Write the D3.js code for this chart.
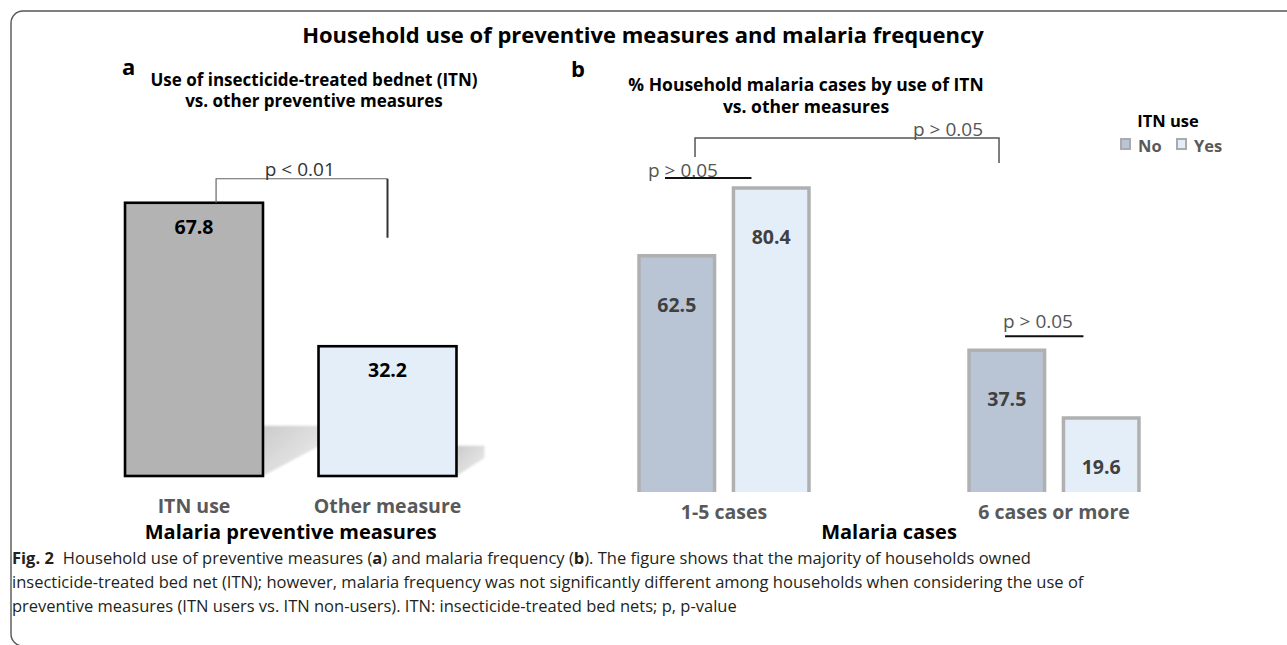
<!DOCTYPE html>
<html>
<head>
<meta charset="utf-8">
<script src="https://cdn.jsdelivr.net/npm/d3@7"></script>
<style>
  html, body { margin: 0; padding: 0; background: #fff; }
  svg { display: block; }
  text { font-family: "Open Sans", "Noto Sans", sans-serif; }
</style>
</head>
<body>
<div id="chart"></div>
<script>
// Panel a: preventive measure used by households (%)
const measureCats = ["ITN use", "Other measure"];
const measureValues = [67.8, 32.2];

// Panel b: household malaria cases by ITN use (%)
const caseCats = ["1-5 cases", "6 cases or more"];
const itnGroups = ["No", "Yes"];
const caseNo = [62.5, 37.5];
const caseYes = [80.4, 19.6];

// Significance annotations
const pLabelA = "p < 0.01";
const pLabelOverall = "p > 0.05";
const pLabelGroups = ["p > 0.05", "p > 0.05"];

const W = 1287, H = 645;
const svg = d3.select("#chart").append("svg")
  .attr("width", W).attr("height", H);

const defs = svg.append("defs");
const grad = defs.append("linearGradient").attr("id", "floorShade")
  .attr("x1", 0).attr("y1", 0).attr("x2", 1).attr("y2", 1);
grad.append("stop").attr("offset", 0).attr("stop-color", "#cbcbcb");
grad.append("stop").attr("offset", 1).attr("stop-color", "#efefef");
defs.append("filter").attr("id", "soft")
  .append("feGaussianBlur").attr("stdDeviation", 1.2);

// Figure frame (rounded corner at the left, runs off the right edge)
svg.append("path")
  .attr("d", "M1300,11 H23 A12,12 0 0 0 11,23 V634 A12,12 0 0 0 23,646")
  .attr("fill", "none").attr("stroke", "#555").attr("stroke-width", 1.4);

// Main title
svg.append("text")
  .attr("x", 643).attr("y", 43).attr("text-anchor", "middle")
  .attr("font-size", 22).attr("font-weight", 700).attr("fill", "#000")
  .text("Household use of preventive measures and malaria frequency");

// ---------------- Panel a ----------------
const xa = d3.scaleBand().domain(measureCats)
  .range([97.25, 484.25]).paddingInner(0.287).paddingOuter(0.1435);
const ya = d3.scaleLinear().domain([0, 100]).range([476, 73]);
const floorA = ya(0);
const gA = svg.append("g");

gA.append("text").attr("x", 122).attr("y", 75)
  .attr("font-family", "Liberation Sans, Arial, sans-serif")
  .attr("font-size", 22).attr("font-weight", 700).text("a");
const subA = gA.append("text").attr("text-anchor", "middle")
  .attr("font-size", 17).attr("font-weight", 700).attr("fill", "#000");
subA.append("tspan").attr("x", 314).attr("y", 86).text("Use of insecticide-treated bednet (ITN)");
subA.append("tspan").attr("x", 314).attr("y", 107).text("vs. other preventive measures");

// floor shadows behind the bars
const bwA = xa.bandwidth();
gA.selectAll("path.shade").data(measureValues).join("path")
  .attr("class", "shade")
  .attr("d", (v, i) => {
    const xr = xa(measureCats[i]) + bwA;
    const h = floorA - ya(v);
    const sh = 12 + 0.14 * h, sw = 0.2 * h + 2;
    return `M${xr},${floorA} V${floorA - sh} H${xr + sw} V${floorA - sh + 0.4 * sh} Z`;
  })
  .attr("fill", "url(#floorShade)").attr("filter", "url(#soft)");

const fillA = ["#b3b3b3", "#e4eef9"];
gA.selectAll("rect.bar").data(measureValues).join("rect")
  .attr("class", "bar")
  .attr("x", (v, i) => xa(measureCats[i]))
  .attr("y", v => ya(v))
  .attr("width", bwA)
  .attr("height", v => floorA - ya(v))
  .attr("fill", (v, i) => fillA[i])
  .attr("stroke", "#000").attr("stroke-width", 2.6);

gA.selectAll("text.val").data(measureValues).join("text")
  .attr("class", "val").attr("text-anchor", "middle")
  .attr("x", (v, i) => xa(measureCats[i]) + bwA / 2)
  .attr("y", v => ya(v) + 31)
  .attr("font-size", 19.5).attr("font-weight", 700).attr("fill", "#000")
  .text(v => v.toFixed(1));

// significance bracket
{
  const xl = xa(measureCats[0]) + bwA * 0.66;
  const xr = xa(measureCats[1]) + bwA / 2;
  const yt = ya(measureValues[0]) - 24;
  gA.append("path")
    .attr("d", `M${xl},${ya(measureValues[0])} V${yt} H${xr}`)
    .attr("fill", "none").attr("stroke", "#666").attr("stroke-width", 1.2);
  gA.append("path")
    .attr("d", `M${xr},${yt} V${ya(measureValues[0]) + 35}`)
    .attr("fill", "none").attr("stroke", "#333").attr("stroke-width", 2);
  gA.append("text").attr("x", (xl + xr) / 2 - 2).attr("y", yt - 3)
    .attr("text-anchor", "middle").attr("font-size", 19).attr("fill", "#333")
    .text(pLabelA);
}

const axA = gA.append("g").attr("transform", `translate(0,${floorA})`)
  .call(d3.axisBottom(xa).tickSize(0).tickPadding(0));
axA.select(".domain").remove();
axA.selectAll("text")
  .attr("dy", 0).attr("y", 37)
  .attr("font-family", "Open Sans, sans-serif")
  .attr("font-size", 19.5).attr("font-weight", 700).attr("fill", "#595959");

gA.append("text").attr("x", (xa.range()[0] + xa.range()[1]) / 2).attr("y", 539)
  .attr("text-anchor", "middle").attr("font-size", 20).attr("font-weight", 700)
  .text("Malaria preventive measures");

// ---------------- Panel b ----------------
const xb0 = d3.scaleBand().domain(caseCats)
  .range([559, 1219]).paddingInner(0.485).paddingOuter(0.2425);
const xb1 = d3.scaleBand().domain(itnGroups)
  .range([0, xb0.bandwidth()]).paddingInner(0.2).paddingOuter(0);
const yb = d3.scaleLinear().domain([0, 100]).range([492, 114]);
const floorB = yb(0);
const colorB = d3.scaleOrdinal().domain(itnGroups).range(["#b9c5d5", "#e4eef9"]);
const gB = svg.append("g");

gB.append("text").attr("x", 571).attr("y", 77)
  .attr("font-family", "Liberation Sans, Arial, sans-serif")
  .attr("font-size", 22).attr("font-weight", 700).text("b");
const subB = gB.append("text").attr("text-anchor", "middle")
  .attr("font-size", 17.5).attr("font-weight", 700).attr("fill", "#000");
subB.append("tspan").attr("x", 806).attr("y", 91).text("% Household malaria cases by use of ITN");
subB.append("tspan").attr("x", 806).attr("y", 113).text("vs. other measures");

const barsB = [];
caseCats.forEach((c, i) => {
  barsB.push({ cat: c, grp: "No", v: caseNo[i] });
  barsB.push({ cat: c, grp: "Yes", v: caseYes[i] });
});
const bwB = xb1.bandwidth();
const bx = d => xb0(d.cat) + xb1(d.grp);

gB.selectAll("rect.bar").data(barsB).join("rect")
  .attr("class", "bar")
  .attr("x", bx).attr("y", d => yb(d.v))
  .attr("width", bwB).attr("height", d => floorB - yb(d.v))
  .attr("fill", d => colorB(d.grp));
gB.selectAll("path.edge").data(barsB).join("path")
  .attr("class", "edge")
  .attr("d", d => `M${bx(d)},${floorB} V${yb(d.v)} H${bx(d) + bwB} V${floorB}`)
  .attr("fill", "none").attr("stroke", "#b0b0b0").attr("stroke-width", 3.5);

gB.selectAll("text.val").data(barsB).join("text")
  .attr("class", "val").attr("text-anchor", "middle")
  .attr("x", d => bx(d) + bwB / 2)
  .attr("y", d => yb(d.v) + 56)
  .attr("font-size", 19.5).attr("font-weight", 700).attr("fill", "#404040")
  .text(d => d.v.toFixed(1));

// overall comparison bracket
{
  const noFirst = barsB[0], yesFirst = barsB[1], noSecond = barsB[2];
  const xl = bx(noFirst) + 56;
  const xr = bx(noSecond) + 30;
  const yt = yb(yesFirst.v) - 50;
  gB.append("path")
    .attr("d", `M${xl},${yb(yesFirst.v) - 31} V${yt} H${xr} V${yt + 25}`)
    .attr("fill", "none").attr("stroke", "#555").attr("stroke-width", 1.5);
  gB.append("text").attr("x", xr - 16).attr("y", yt - 2)
    .attr("text-anchor", "end").attr("font-size", 19).attr("fill", "#555")
    .text(pLabelOverall);
}

// within-group comparisons
caseCats.forEach((c, i) => {
  const no = barsB[2 * i], yes = barsB[2 * i + 1];
  const top = Math.max(no.v, yes.v);
  if (i === 0) {
    const yl = yb(top) - 10;
    gB.append("text").attr("x", bx(no) + 9).attr("y", yl - 1)
      .attr("font-size", 19).attr("fill", "#555").text(pLabelGroups[i]);
    gB.append("line").attr("x1", bx(no) + 26).attr("x2", bx(yes) + 18)
      .attr("y1", yl).attr("y2", yl).attr("stroke", "#111").attr("stroke-width", 2);
  } else {
    const yl = yb(top) - 14;
    gB.append("text").attr("x", bx(no) + 34).attr("y", yl - 8)
      .attr("font-size", 19).attr("fill", "#555").text(pLabelGroups[i]);
    gB.append("line").attr("x1", bx(no) + 36).attr("x2", bx(yes) + 20)
      .attr("y1", yl).attr("y2", yl).attr("stroke", "#111").attr("stroke-width", 2);
  }
});

const axB = gB.append("g").attr("transform", `translate(0,${floorB})`)
  .call(d3.axisBottom(xb0).tickSize(0).tickPadding(0));
axB.select(".domain").remove();
axB.selectAll("text")
  .attr("dy", 0).attr("y", 27)
  .attr("font-family", "Open Sans, sans-serif")
  .attr("font-size", 19.5).attr("font-weight", 700).attr("fill", "#595959");

gB.append("text").attr("x", (xb0.range()[0] + xb0.range()[1]) / 2).attr("y", 539)
  .attr("text-anchor", "middle").attr("font-size", 20).attr("font-weight", 700)
  .text("Malaria cases");

// legend
const leg = svg.append("g");
leg.append("text").attr("x", 1168).attr("y", 127).attr("text-anchor", "middle")
  .attr("font-size", 16.5).attr("font-weight", 700).text("ITN use");
const legX = [1121, 1177];
itnGroups.forEach((g, i) => {
  leg.append("rect").attr("x", legX[i]).attr("y", 139).attr("width", 9).attr("height", 10)
    .attr("fill", colorB(g)).attr("stroke", "#aaa").attr("stroke-width", 2);
  leg.append("text").attr("x", legX[i] + 17).attr("y", 152)
    .attr("font-size", 16.5).attr("font-weight", 700).attr("fill", "#595959").text(g);
});

// caption
const cap = svg.append("g").attr("font-size", 16.5).attr("fill", "#231f20");
const l1 = cap.append("text").attr("x", 12).attr("y", 564);
l1.append("tspan").attr("font-weight", 700).text("Fig. 2");
l1.append("tspan").attr("dx", 9).text("Household use of preventive measures (");
l1.append("tspan").attr("font-weight", 700).text("a");
l1.append("tspan").text(") and malaria frequency (");
l1.append("tspan").attr("font-weight", 700).text("b");
l1.append("tspan").text("). The figure shows that the majority of households owned");
cap.append("text").attr("x", 12).attr("y", 588)
  .text("insecticide-treated bed net (ITN); however, malaria frequency was not significantly different among households when considering the use of");
cap.append("text").attr("x", 12).attr("y", 612)
  .text("preventive measures (ITN users vs. ITN non-users). ITN: insecticide-treated bed nets; p, p-value");
</script>
</body>
</html>
